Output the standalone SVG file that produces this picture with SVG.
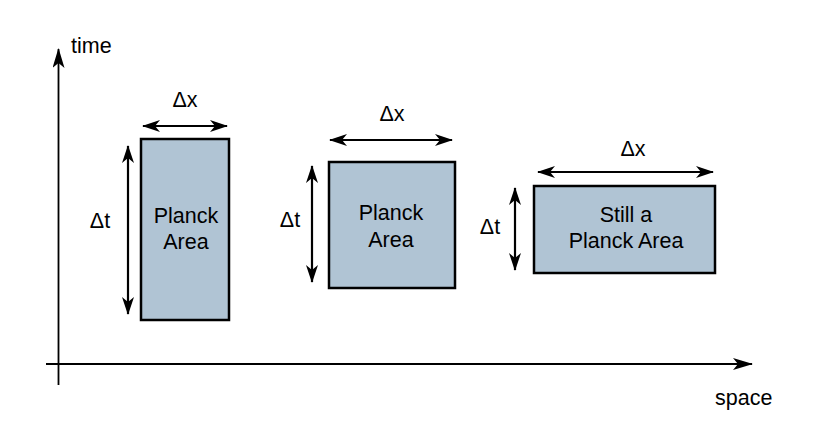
<svg xmlns="http://www.w3.org/2000/svg" width="827" height="444" viewBox="0 0 827 444">
<defs>
<marker id="ah" viewBox="0 0 18 12" refX="17" refY="6" markerWidth="18" markerHeight="12" markerUnits="userSpaceOnUse" orient="auto-start-reverse">
<path d="M0,0 L18,6 L0,12 L5,6 Z" fill="#000"/>
</marker>
<marker id="aa" viewBox="0 0 20 12" refX="19" refY="6" markerWidth="20" markerHeight="12" markerUnits="userSpaceOnUse" orient="auto">
<path d="M0,0 L20,6 L0,12 L5,6 Z" fill="#000"/>
</marker>
<style>
.t{font-family:"Liberation Sans",Arial,sans-serif;font-size:21.5px;fill:#000;text-anchor:middle}
.s{text-anchor:start}
.box{fill:#b0c4d4;stroke:#000;stroke-width:2.5}
.ln{stroke:#000;stroke-width:2.2;fill:none}
.ax{stroke:#000;stroke-width:1.8;fill:none}
</style>
</defs>
<rect width="827" height="444" fill="#fff"/>
<g id="axes">
<line class="ax" x1="58.5" y1="385" x2="58.5" y2="49" marker-end="url(#aa)"/>
<line class="ax" x1="46" y1="364" x2="752" y2="364" marker-end="url(#aa)"/>
<text class="t s" x="71" y="53">time</text>
<text class="t s" x="715" y="405">space</text>
</g>
<g id="area1">
<rect class="box" x="141" y="139" width="88" height="181"/>
<text class="t" x="186" y="223">Planck</text>
<text class="t" x="186" y="249">Area</text>
</g>
<g id="area2">
<rect class="box" x="329" y="162" width="126" height="126"/>
<text class="t" x="391" y="220">Planck</text>
<text class="t" x="391" y="247">Area</text>
</g>
<g id="area3">
<rect class="box" x="534" y="186" width="181" height="87"/>
<text class="t" x="626" y="222">Still a</text>
<text class="t" x="626" y="248">Planck Area</text>
</g>
<g id="connectors">
<line class="ln" x1="143" y1="126" x2="227" y2="126" marker-start="url(#ah)" marker-end="url(#ah)"/>
<line class="ln" x1="128" y1="146" x2="128" y2="314" marker-start="url(#ah)" marker-end="url(#ah)"/>
<line class="ln" x1="330" y1="140" x2="452" y2="140" marker-start="url(#ah)" marker-end="url(#ah)"/>
<line class="ln" x1="312" y1="166" x2="312" y2="282" marker-start="url(#ah)" marker-end="url(#ah)"/>
<line class="ln" x1="538" y1="172" x2="713" y2="172" marker-start="url(#ah)" marker-end="url(#ah)"/>
<line class="ln" x1="515" y1="188" x2="515" y2="270" marker-start="url(#ah)" marker-end="url(#ah)"/>
</g>
<g id="labels">
<text class="t" x="185" y="107">Δx</text>
<text class="t" x="100" y="228">Δt</text>
<text class="t" x="392" y="121">Δx</text>
<text class="t" x="290" y="227">Δt</text>
<text class="t" x="633" y="156">Δx</text>
<text class="t" x="490" y="234">Δt</text>
</g>
</svg>
